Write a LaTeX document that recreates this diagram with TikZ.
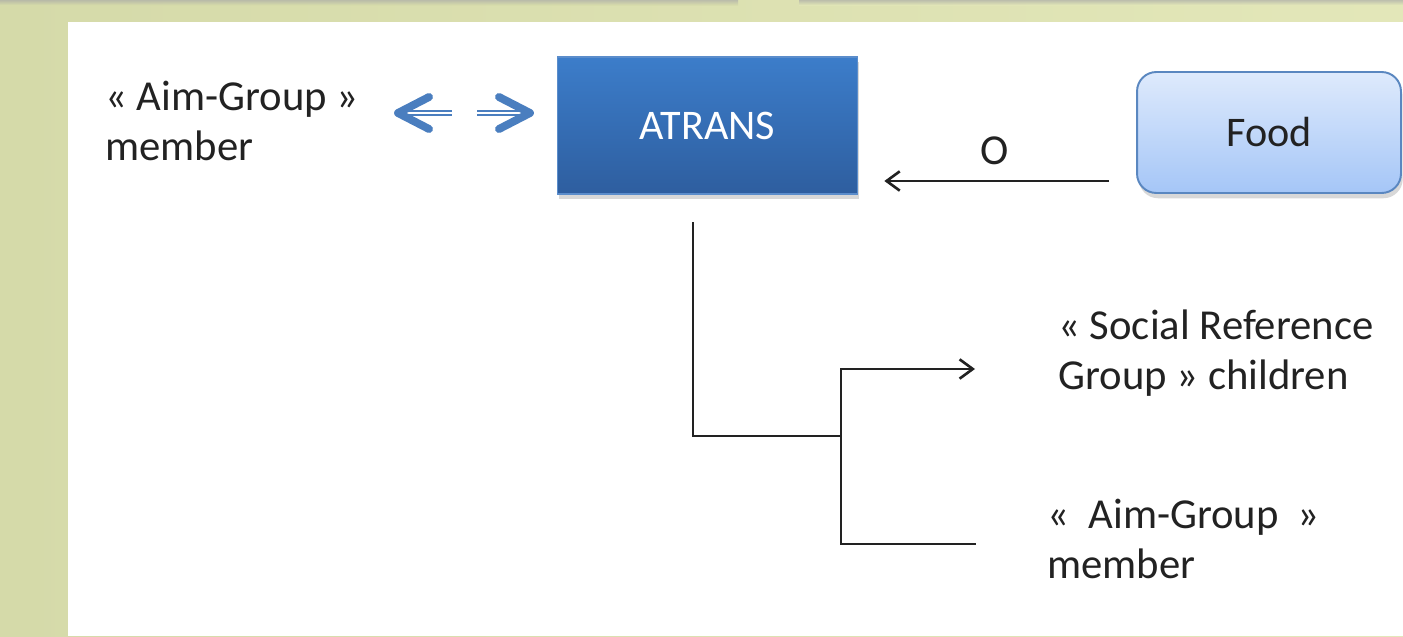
\documentclass[tikz,border=0pt]{standalone}
\usepackage{fontspec}
\setmainfont{Carlito}
\usetikzlibrary{arrows.meta,shadows}

\definecolor{pagegreen}{HTML}{D5DAA9}
\definecolor{pagegreenlight}{HTML}{E3E7B9}
\definecolor{atranstop}{HTML}{3C7DCA}
\definecolor{atransbottom}{HTML}{2E5E9F}
\definecolor{atransline}{HTML}{5B8DCB}
\definecolor{foodtop}{HTML}{DEEAFC}
\definecolor{foodbottom}{HTML}{A5C6F7}
\definecolor{foodline}{HTML}{5A87C0}
\definecolor{swapblue}{HTML}{4A7EBF}
\definecolor{ink}{HTML}{222222}

\begin{document}
\begin{tikzpicture}[x=0.02cm,y=-0.02cm]
  \tikzset{label text/.style={anchor=base west,inner sep=0pt,align=left,text=ink,
             font=\fontsize{24.3}{28.4}\selectfont},
           action box/.style={draw=atransline,line width=1pt,top color=atranstop,
             bottom color=atransbottom,minimum width=6cm,minimum height=2.74cm,
             text=white,font=\fontsize{24}{28.4}\selectfont,
             drop shadow={shadow xshift=1pt,shadow yshift=-3pt,opacity=0.3}},
           object box/.style={draw=foodline,line width=1.1pt,rounded corners=11pt,
             top color=foodtop,bottom color=foodbottom,minimum width=5.28cm,
             minimum height=2.42cm,text=ink,font=\fontsize{24}{28.4}\selectfont,
             drop shadow={shadow xshift=1pt,shadow yshift=-3pt,opacity=0.3}},
           flow/.style={draw=ink,line width=1.5pt,-{Straight Barb[length=7.5pt,width=11pt]}},
           branch/.style={draw=ink,line width=1.5pt},
           swap head/.style={draw=swapblue,line width=4.5pt,line cap=round,line join=round},
           swap shaft/.style={draw=swapblue,line width=1.4pt,double=white,double distance=0.9pt}}

  % slide background and page
  \shade[left color=pagegreen,right color=pagegreenlight] (0,0) rectangle (1403,636);
  \shade[top color=black!35,bottom color=pagegreen,opacity=0.6] (0,0) rectangle (738,5);
  \shade[top color=black!35,bottom color=pagegreenlight,opacity=0.6] (799,0) rectangle (1403,5);
  \fill[white] (68,22) rectangle (1403,636);
  \useasboundingbox (0,0) rectangle (1403,636);

  \node [action box] (atrans) at (707.5,125.5) {ATRANS};
  \node [object box] (food) at (1269,132.5) {Food};

  % base anchor sits on the last line
  \node [label text] (lefttext) at (105,160) {« Aim-Group »\\member};
  \node [label text] (socialtext) at (1058,389) {« Social Reference\\Group » children};
  \node [label text] (aimtext) at (1047,578) {«\ \ Aim-Group\ \ »\\member};
  \node [label text] (otext) at (980,164) {O};

  % double arrows between the member and ATRANS
  \coordinate (lefttip) at (398,113);
  \coordinate (righttip) at (530,113);
  \draw [swap shaft] (404,113) -- (452,113);
  \draw [swap head] (429,97) -- (lefttip) -- (429,129);
  \draw [swap shaft] (477,113) -- (524,113);
  \draw [swap head] (499,97) -- (righttip) -- (499,129);

  % object goes into the action
  \coordinate (olevel) at (0,181);
  \draw [flow,shorten <=0.54cm,shorten >=0.52cm] (food.west |- olevel) -- (atrans.east |- olevel);

  % recipient branches
  \coordinate (stem) at (693,222);
  \coordinate (fork) at (841,436);
  \coordinate (socialend) at (975,369);
  \coordinate (aimend) at (976,544);
  \draw [branch] (stem) |- (fork);
  \draw [flow] (fork) |- (socialend);
  \draw [branch] (fork) |- (aimend);
\end{tikzpicture}
\end{document}
